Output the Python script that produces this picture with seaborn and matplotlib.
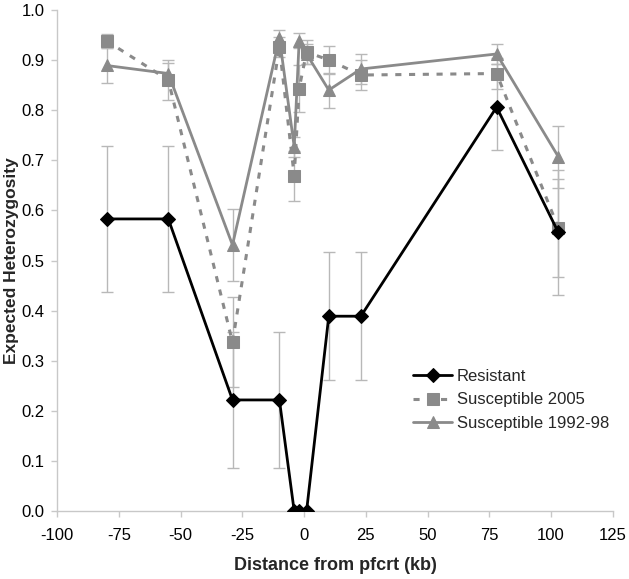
import numpy as np
import pandas as pd
import matplotlib
matplotlib.use("Agg")
import matplotlib.pyplot as plt
import seaborn as sns

# distance from pfcrt (kb) for each marker locus
distance = [-80, -55, -29, -10, -4, -2, 1, 10, 23, 78, 103]

# expected heterozygosity per group, with error bar half-widths
resistant = [0.583, 0.583, 0.222, 0.222, 0.0, 0.0, 0.0, 0.389, 0.389, 0.806, 0.556]
resistant_err = [0.146, 0.146, 0.136, 0.136, 0.0, 0.0, 0.0, 0.128, 0.128, 0.085, 0.125]

susc_2005 = [0.938, 0.860, 0.337, 0.926, 0.669, 0.843, 0.916, 0.900, 0.870, 0.873, 0.565]
susc_2005_err = [0.014, 0.040, 0.090, 0.020, 0.050, 0.046, 0.024, 0.028, 0.030, 0.030, 0.097]

susc_1992 = [0.889, 0.873, 0.531, 0.944, 0.727, 0.938, 0.912, 0.840, 0.882, 0.912, 0.707]
susc_1992_err = [0.035, 0.020, 0.071, 0.015, 0.020, 0.015, 0.020, 0.035, 0.030, 0.020, 0.062]

df = pd.DataFrame({'Distance': distance,
                   'Resistant': resistant,
                   'Susceptible 2005': susc_2005,
                   'Susceptible 1992-98': susc_1992})

sns.set_style("white")
plt.rcParams['font.family'] = ['Liberation Sans', 'DejaVu Sans']
plt.rcParams['axes.unicode_minus'] = False

fig = plt.figure(figsize=(6.29, 5.79), dpi=100)
ax = fig.add_axes([0.091, 0.117, 0.883, 0.866])

grey = '#8a8a8a'
err_col = '#b8b8b8'

# error bars drawn underneath
for vals, errs in [(susc_1992, susc_1992_err), (susc_2005, susc_2005_err), (resistant, resistant_err)]:
    ax.errorbar(distance, vals, yerr=errs, fmt='none', ecolor=err_col,
                elinewidth=1, capsize=4, capthick=1, zorder=1)

sns.lineplot(data=df, x='Distance', y='Susceptible 1992-98', ax=ax, color=grey,
             linewidth=2, marker='^', markersize=9, markeredgecolor=grey,
             label='Susceptible 1992-98', zorder=2)
sns.lineplot(data=df, x='Distance', y='Susceptible 2005', ax=ax, color=grey,
             linewidth=2.2, linestyle=(0, (2, 2.5)), marker='s', markersize=8,
             markeredgecolor=grey, label='Susceptible 2005', zorder=3)
sns.lineplot(data=df, x='Distance', y='Resistant', ax=ax, color='black',
             linewidth=2, marker='D', markersize=7, markeredgecolor='black',
             label='Resistant', zorder=4)

ax.set_xlim(-100, 125)
ax.set_ylim(0, 1.0)
ax.set_xticks(np.arange(-100, 126, 25))
ax.set_yticks(np.arange(0, 1.01, 0.1))
ax.set_yticklabels([f"{v:.1f}" for v in np.arange(0, 1.01, 0.1)])

ax.set_xlabel('Distance from pfcrt (kb)', fontsize=13, fontweight='bold', labelpad=10)
ax.set_ylabel('Expected Heterozygosity', fontsize=12.5, fontweight='bold', labelpad=2)

for side in ['top', 'right']:
    ax.spines[side].set_visible(False)
for side in ['left', 'bottom']:
    ax.spines[side].set_color('#c8c8c8')
    ax.spines[side].set_linewidth(1)
ax.tick_params(axis='both', labelsize=12, colors='#c8c8c8', labelcolor='black',
               direction='out', length=4, width=1, bottom=True, left=True)
ax.tick_params(axis='x', pad=8)
ax.tick_params(axis='y', pad=5)

handles, labels = ax.get_legend_handles_labels()
order = ['Resistant', 'Susceptible 2005', 'Susceptible 1992-98']
h = [handles[labels.index(o)] for o in order]
ax.legend(h, order, loc='center left', bbox_to_anchor=(0.614, 0.222), frameon=False,
          fontsize=12, handlelength=2.35, handletextpad=0.25, labelspacing=0.5)

fig.savefig('out.png', dpi=100)
